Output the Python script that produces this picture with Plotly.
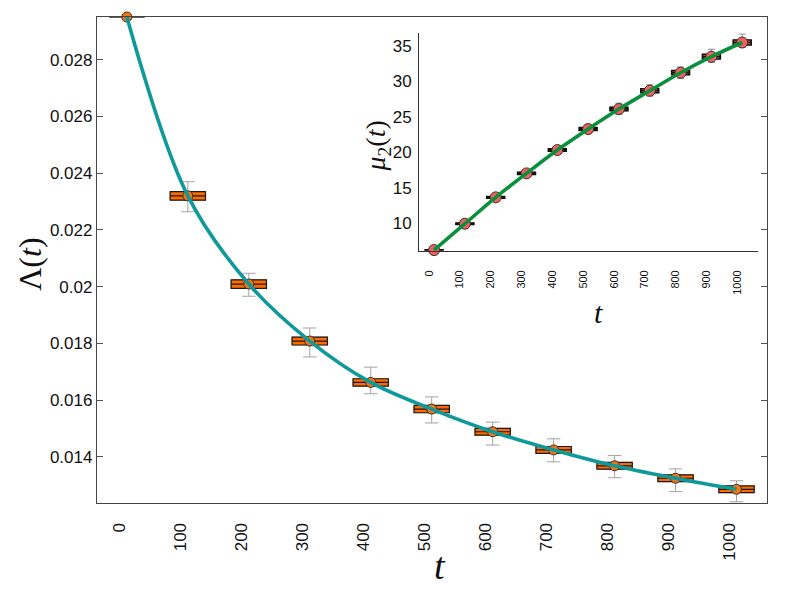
import plotly.graph_objects as go

# time points (categories of both box plots)
t_vals = [0, 100, 200, 300, 400, 500, 600, 700, 800, 900, 1000]
t_labels = [str(t) for t in t_vals]

# main panel: Lambda(t)
lam_med = [0.02951, 0.02320, 0.02009, 0.01808, 0.01662, 0.01568, 0.01488, 0.01424, 0.01368, 0.01324, 0.01285]
lam_q1 = [0.02951, 0.02305, 0.01994, 0.01794, 0.01649, 0.01555, 0.01476, 0.01412, 0.01356, 0.01312, 0.01273]
lam_q3 = [0.02951, 0.02335, 0.02024, 0.01822, 0.01675, 0.01581, 0.01500, 0.01436, 0.01380, 0.01336, 0.01297]
lam_lo = [0.02951, 0.02264, 0.01966, 0.01752, 0.01622, 0.01519, 0.01441, 0.01382, 0.01326, 0.01277, 0.01241]
lam_hi = [0.02951, 0.02370, 0.02047, 0.01854, 0.01716, 0.01611, 0.01522, 0.01463, 0.01404, 0.01357, 0.01315]

# inset: mu_2(t)
mu_med = [6.24, 9.95, 13.67, 17.05, 20.34, 23.30, 26.12, 28.70, 31.24, 33.50, 35.50]
mu_q1 = [6.20, 9.85, 13.55, 16.90, 20.16, 23.10, 25.88, 28.42, 30.95, 33.18, 35.15]
mu_q3 = [6.28, 10.05, 13.79, 17.20, 20.52, 23.50, 26.36, 28.98, 31.53, 33.82, 35.85]
mu_lo = [6.15, 9.70, 13.40, 16.75, 19.95, 22.75, 25.40, 27.95, 30.45, 32.70, 34.80]
mu_hi = [6.33, 10.20, 13.95, 17.35, 20.70, 23.95, 26.95, 29.55, 32.05, 34.55, 36.70]

TICK_FONT = "Liberation Sans"
MATH_FONT = "Liberation Serif"

fig = go.Figure()

# ---- main panel ----
# whiskers (gray), box drawn over them
fig.add_trace(go.Box(
    x=t_vals, q1=lam_q1, median=lam_med, q3=lam_q3,
    lowerfence=lam_lo, upperfence=lam_hi,
    width=58, whiskerwidth=0.38,
    line=dict(color="#a3a3a3", width=1), fillcolor="rgba(0,0,0,0)",
    xaxis="x", yaxis="y", showlegend=False, hoverinfo="skip"
))
fig.add_trace(go.Box(
    x=t_vals, q1=lam_q1, median=lam_med, q3=lam_q3,
    lowerfence=lam_q1, upperfence=lam_q3,
    width=58, whiskerwidth=0,
    line=dict(color="#1a1a1a", width=1.2), fillcolor="#ff6a00",
    xaxis="x", yaxis="y", showlegend=False
))
fig.add_trace(go.Scatter(
    x=t_vals, y=lam_med, mode="markers", cliponaxis=False,
    marker=dict(size=10, color="#f7730f", line=dict(color="#333333", width=1)),
    xaxis="x", yaxis="y", showlegend=False
))
fig.add_trace(go.Scatter(
    x=t_vals, y=lam_med, mode="lines",
    line=dict(color="#10999a", width=3.6, shape="spline", smoothing=1.0),
    xaxis="x", yaxis="y", showlegend=False
))

# ---- inset ----
fig.add_trace(go.Box(
    x=t_vals, q1=mu_q1, median=mu_med, q3=mu_q3,
    lowerfence=mu_lo, upperfence=mu_hi,
    width=58, whiskerwidth=0.4,
    line=dict(color="#8a8a8a", width=1), fillcolor="rgba(0,0,0,0)",
    xaxis="x2", yaxis="y2", showlegend=False, hoverinfo="skip"
))
fig.add_trace(go.Box(
    x=t_vals, q1=mu_q1, median=mu_med, q3=mu_q3,
    lowerfence=mu_q1, upperfence=mu_q3,
    width=58, whiskerwidth=0,
    line=dict(color="#111111", width=1.6), fillcolor="#f0615e",
    xaxis="x2", yaxis="y2", showlegend=False
))
fig.add_trace(go.Scatter(
    x=t_vals, y=mu_med, mode="markers", cliponaxis=False,
    marker=dict(size=11, color="#f0615e", line=dict(color="#333333", width=1)),
    xaxis="x2", yaxis="y2", showlegend=False
))
fig.add_trace(go.Scatter(
    x=t_vals, y=mu_med, mode="lines",
    line=dict(color="#0a8f3a", width=3.6, shape="spline", smoothing=1.0),
    xaxis="x2", yaxis="y2", showlegend=False
))

fig.update_layout(
    width=789, height=593,
    # page is offset by the 8px body margin, margins compensate
    margin=dict(l=89, r=30, t=9, b=98),
    paper_bgcolor="white", plot_bgcolor="white",
    boxmode="overlay",
    xaxis=dict(
        domain=[0, 1], range=[-49, 1050],
        tickvals=t_vals, ticktext=t_labels, tickangle=-90,
        ticks="", showgrid=False, zeroline=False,
        showline=True, mirror=True, linecolor="#444444", linewidth=1.3,
        tickfont=dict(family=TICK_FONT, size=17, color="#111111"),
        ticklabelstandoff=12, ticklabelshift=-7,
    ),
    yaxis=dict(
        domain=[0, 1], range=[0.012367, 0.02951],
        tick0=0, dtick=0.002,
        ticks="inside", ticklen=6, tickcolor="#555555", tickwidth=1.2,
        showgrid=False, zeroline=False,
        showline=True, mirror="allticks", linecolor="#444444", linewidth=1.3,
        tickfont=dict(family=TICK_FONT, size=17, color="#111111"),
    ),
    xaxis2=dict(
        domain=[0.481, 0.986], anchor="y2", range=[-48, 1050],
        tickvals=t_vals, ticktext=t_labels, tickangle=-90,
        ticks="", showgrid=False, zeroline=False,
        showline=True, linecolor="#333333", linewidth=1.2,
        tickfont=dict(family=TICK_FONT, size=11, color="#111111"),
        ticklabelstandoff=14, ticklabelshift=-5,
    ),
    yaxis2=dict(
        domain=[0.519, 0.9665], anchor="x2", range=[6.14, 36.8],
        tickvals=[10, 15, 20, 25, 30, 35],
        ticks="", showgrid=False, zeroline=False,
        showline=True, linecolor="#333333", linewidth=1.2,
        tickfont=dict(family=TICK_FONT, size=17, color="#111111"),
        ticklabelstandoff=3,
    ),
    annotations=[
        dict(text="<i>t</i>", x=0.512, y=-0.13, xref="paper", yref="paper",
             xanchor="center", yanchor="middle", showarrow=False,
             font=dict(family=MATH_FONT, size=38, color="#111111")),
        dict(text="Λ(<i>t</i>)", x=-0.1, y=0.49, xref="paper", yref="paper",
             xanchor="center", yanchor="middle", textangle=-90, showarrow=False,
             font=dict(family=MATH_FONT, size=32, color="#111111")),
        dict(text="<i>μ</i><sub>2</sub>(<i>t</i>)", x=0.419, y=0.735, xref="paper", yref="paper",
             xanchor="center", yanchor="middle", textangle=-90, showarrow=False,
             font=dict(family=MATH_FONT, size=28, color="#111111")),
        dict(text="<i>t</i>", x=0.748, y=0.391, xref="paper", yref="paper",
             xanchor="center", yanchor="middle", showarrow=False,
             font=dict(family=MATH_FONT, size=30, color="#111111")),
    ],
)

fig.write_html("out.html")
